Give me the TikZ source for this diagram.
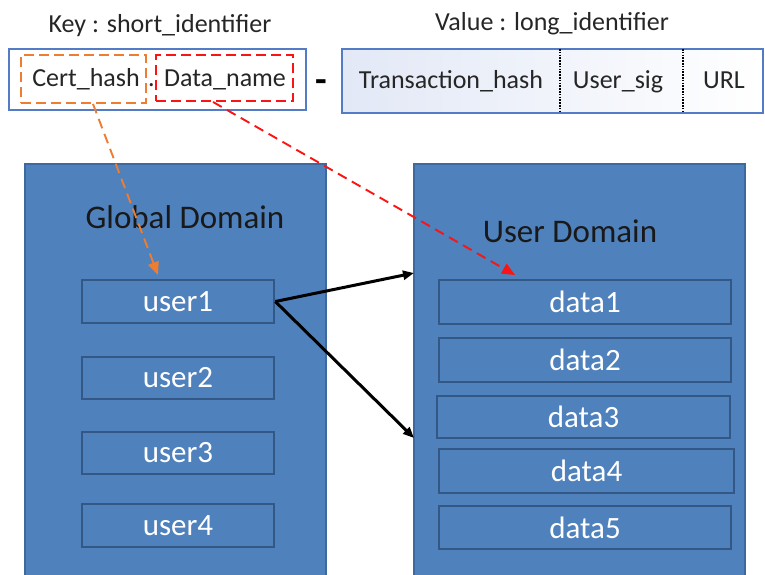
\documentclass[tikz,border=0pt]{standalone}
\usepackage{fontspec}
\setmainfont{Carlito}
\usetikzlibrary{arrows.meta,calc}

\definecolor{domfill}{RGB}{79,129,189}
\definecolor{domline}{RGB}{62,105,160}
\definecolor{itemline}{RGB}{52,88,134}
\definecolor{keyline}{RGB}{84,124,198}
\definecolor{certorange}{RGB}{237,125,49}
\definecolor{namered}{RGB}{250,20,20}
\definecolor{valtint}{RGB}{226,232,246}

\tikzset{
  x=1pt, y=-1pt,
  lbl/.style={font=\fontsize{26}{30}\selectfont, text=black!85, anchor=base, inner sep=0pt},
  domtitle/.style={font=\fontsize{33}{38}\selectfont, text=black!90, anchor=base, inner sep=0pt},
  dombox/.style={draw=domline, line width=1.2pt, fill=domfill, inner sep=0pt},
  itembox/.style={draw=itemline, line width=2.6pt, fill=domfill, inner sep=0pt,
    font=\fontsize{31}{36}\selectfont, text=white},
  fieldbox/.style={draw=keyline, line width=1.6pt, inner sep=0pt},
  partbox/.style={line width=1.9pt, dash pattern=on 10pt off 5pt, inner sep=0pt},
  refline/.style={line width=1.9pt, dash pattern=on 10pt off 6pt,
    -{Triangle[length=13pt,width=11pt]}},
  linkline/.style={line width=3pt, -{Triangle[length=11pt,width=9pt]}}
}

\begin{document}
\begin{tikzpicture}
\useasboundingbox (0,0) rectangle (765,574);
\clip (0,0) rectangle (765,574);

% identifier headings
\node[lbl] (keyhead) at (160,32) {Key : short\_identifier};
\node[lbl] (valhead) at (552,30) {Value : long\_identifier};

% key: short identifier
\node[fieldbox, fill=white, minimum width=297pt, minimum height=61pt] (key) at (157.5,79.5) {};
\node[partbox, draw=certorange, minimum width=125pt, minimum height=48pt] (cert) at (83.5,79) {};
\node[partbox, draw=namered, minimum width=137pt, minimum height=46pt] (dname) at (224.5,78) {};
\node[lbl] (certtxt) at (86,86) {Cert\_hash};
\node[lbl] (dot) at (151.5,86) {.};
\node[lbl] (dnametxt) at (225,86) {Data\_name};

% separator between key and value
\node[font=\fontsize{38}{42}\selectfont\bfseries, anchor=base, inner sep=0pt] (sep) at (321,92) {-};

% value: long identifier
\node[fieldbox, left color=valtint, right color=white, minimum width=421pt, minimum height=64pt] (val) at (552.5,81) {};
\coordinate (s1) at (560,49);
\coordinate (s2) at (683,49);
\draw[black, line width=1.5pt, dash pattern=on 1.5pt off 1.3pt] (s1) -- ($(s1)+(0,64)$);
\draw[black, line width=1.5pt, dash pattern=on 1.5pt off 1.3pt] (s2) -- ($(s2)+(0,64)$);
\node[lbl] (txhash) at (451,88) {Transaction\_hash};
\node[lbl] (usig) at (618,88) {User\_sig};
\node[lbl] (url) at (724,88) {URL};

% global domain with its users
\node[dombox, minimum width=301pt, minimum height=420pt] (gdom) at (175.5,374) {};
\node[domtitle] (gtitle) at (185,228) {Global Domain};
\node[itembox, minimum width=192pt, minimum height=43pt] (user1) at (178,301.5) {user1};
\node[itembox, minimum width=192pt, minimum height=42pt] (user2) at (178,378) {user2};
\node[itembox, minimum width=192pt, minimum height=42pt] (user3) at (178,453) {user3};
\node[itembox, minimum width=192pt, minimum height=43pt] (user4) at (178,525.5) {user4};

% user domain with its data
\node[dombox, minimum width=331pt, minimum height=420pt] (udom) at (579.5,374) {};
\node[domtitle] (utitle) at (570,242) {User Domain};
\node[itembox, minimum width=292pt, minimum height=44pt] (data1) at (585,302) {data1};
\node[itembox, minimum width=292pt, minimum height=44pt] (data2) at (585,360) {data2};
\node[itembox, minimum width=293pt, minimum height=42pt] (data3) at (583.5,417) {data3};
\node[itembox, minimum width=295pt, minimum height=44pt] (data4) at (586.5,471) {data4};
\node[itembox, minimum width=292pt, minimum height=43pt] (data5) at (585,527.5) {data5};

% references from the key parts into the domains
\coordinate (certtip) at (158,275);
\coordinate (nametip) at (515,275);
\draw[refline, certorange] ($(cert.south)+(9.5,0)$) -- (certtip);
\draw[refline, namered] ($(dname.south)+(-11.5,0)$) -- (nametip);

% user1 owns a user domain
\coordinate (udtop) at (414,273);
\coordinate (udbot) at (414,438);
\draw[linkline] (user1.east) -- (udtop);
\draw[linkline] (user1.east) -- (udbot);
\end{tikzpicture}
\end{document}
